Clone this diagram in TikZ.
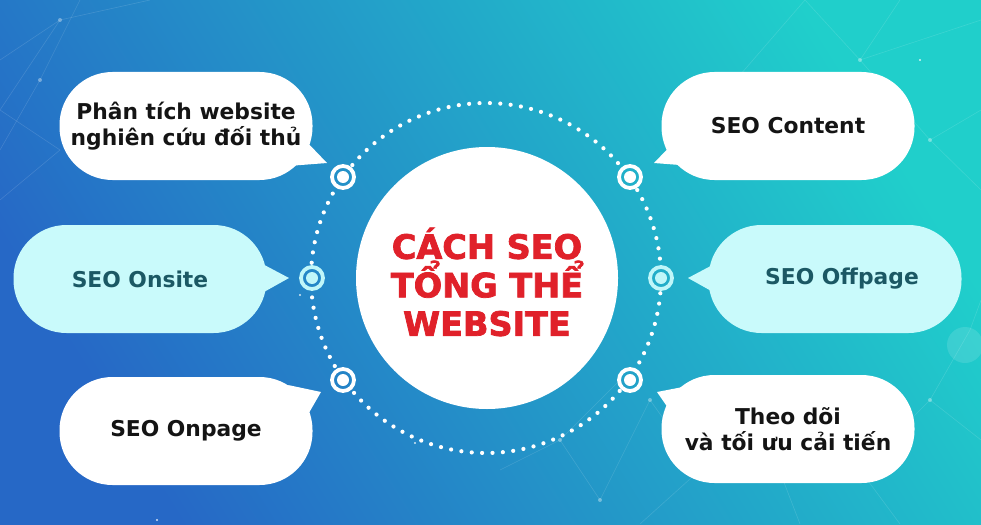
\documentclass[tikz,border=0pt]{standalone}
\usepackage{fontspec}
\setmainfont{DejaVu Sans}
\definecolor{bgblue}{HTML}{2668C6}
\definecolor{bgmid}{HTML}{22A4D6}
\definecolor{bgteal}{HTML}{20CFCB}
\definecolor{cyanfill}{HTML}{C9FAFB}
\definecolor{tealtext}{HTML}{1B5864}
\definecolor{titlered}{HTML}{E0212A}
\definecolor{cyanring}{HTML}{BFF6F9}
\tikzset{
  bubble/.style={rectangle, rounded corners=53pt, minimum width=253pt, minimum height=108pt,
    inner sep=0pt, align=center, font=\bfseries\fontsize{21.8}{25.5}\selectfont},
  whitebub/.style={bubble, fill=white, text=black!92},
  cyanbub/.style={bubble, fill=cyanfill, text=tealtext},
  target/.style={circle, draw=#1, line width=3.8pt, minimum size=22pt, inner sep=0pt,
    path picture={\fill[#1] (path picture bounding box.center) circle (6pt);}},
  ringdots/.style={white, line width=4.2pt, line cap=round, dash pattern=on 0pt off 10.4pt},
  net/.style={white, opacity=0.13, line width=0.6pt},
  netdot/.style={white, opacity=0.35}
}
\begin{document}
\begin{tikzpicture}[x=1pt,y=-1pt]
\useasboundingbox (0,0) rectangle (981,524);
\shade[bottom color=bgblue, middle color=bgmid, top color=bgteal, shading angle=-58] (0,0) rectangle (981,524);
% faint network in the background
\draw[net] (0,110) -- (60,20) -- (150,0) (60,20) -- (0,60) (0,200) -- (60,150) -- (0,110);
\draw[net] (80,0) -- (40,80) -- (0,150);
\draw[net] (805,0) -- (860,60) -- (981,20) (860,60) -- (930,140) -- (981,110) (930,140) -- (981,190);
\draw[net] (740,75) -- (805,0) (900,0) -- (860,60);
\draw[net] (650,400) -- (700,470) -- (760,420) -- (800,524) (700,470) -- (640,524) (760,420) -- (860,470) -- (930,400) -- (981,440) (860,470) -- (900,524);
\draw[net] (500,470) -- (560,440) -- (600,500) -- (650,400) (560,440) -- (620,380);
\draw[net] (930,400) -- (970,330) -- (981,300);
\foreach \p in {(60,20),(40,80),(860,60),(930,140),(700,470),(760,420),(860,470),(930,400),(560,440),(600,500),(650,400)}
  \fill[netdot] \p circle (2pt);
\fill[white, opacity=0.12] (965,345) circle (18pt);
\foreach \p in {(395,310),(300,295),(725,90),(900,447),(415,443),(157,520),(920,60),(268,410)}
  \fill[white, opacity=0.8] \p circle (1.2pt);
% dotted ring
\coordinate (rc) at (486,278);
\foreach \a/\b in {5/30.2, 40.2/139.8, 149.8/175, 185/210.2, 220.2/319.8, 329.8/355}
  \draw[ringdots] (rc) ++(\a:175) arc[start angle=\a, end angle=\b, radius=175];
% centre
\node[circle, fill=white, minimum size=262pt, inner sep=0pt] (c) at (487,278) {};
\node[text=titlered, align=center, font=\addfontfeature{FakeBold=2.2}\bfseries\fontsize{33.5}{38.5}\selectfont] (title) at (487,282)
  {CÁCH SEO\\TỔNG THỂ\\WEBSITE};
% targets
\node[target=white] (t1) at (343,177) {};
\node[target=cyanring] (t2) at (312,278) {};
\node[target=white] (t3) at (343,380) {};
\node[target=white] (t4) at (630,177) {};
\node[target=cyanring] (t5) at (661,278) {};
\node[target=white] (t6) at (630,380) {};
% tails
\fill[white] (303,138) -- (327,163) -- (288,166) -- cycle;
\fill[cyanfill] (255,260) -- (289,278) -- (255,297) -- cycle;
\fill[white] (288,385) -- (321,392) -- (306,418) -- cycle;
\fill[white] (678,138) -- (654,163) -- (693,166) -- cycle;
\fill[cyanfill] (722,260) -- (688,278) -- (722,297) -- cycle;
\fill[white] (693,385) -- (657,392) -- (675,418) -- cycle;
% bubbles
\node[whitebub] (b1) at (186,126) {Phân tích website\\nghiên cứu đối thủ};
\node[cyanbub] (b2) at (140,279) {SEO Onsite};
\node[whitebub] (b3) at (186,431) {SEO Onpage};
\node[whitebub] (b4) at (788,126) {SEO Content};
\node[cyanbub] (b5) at (835,279) {\hspace*{14pt}SEO Offpage};
\node[whitebub] (b6) at (788,429) {Theo dõi\\và tối ưu cải tiến};
\end{tikzpicture}
\end{document}
